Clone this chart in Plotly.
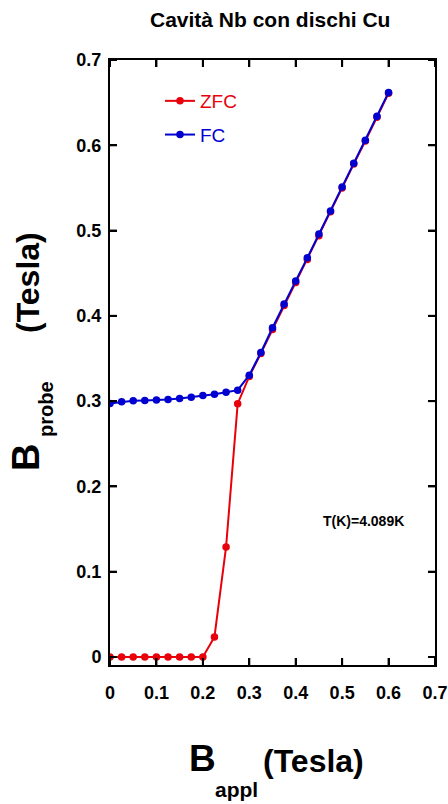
import plotly.graph_objects as go

# Applied field steps (Tesla)
b_appl = [0.0, 0.025, 0.05, 0.075, 0.1, 0.125, 0.15, 0.175, 0.2, 0.225, 0.25, 0.275,
          0.3, 0.325, 0.35, 0.375, 0.4, 0.425, 0.45, 0.475, 0.5, 0.525, 0.55, 0.575, 0.6]

# Zero-field-cooled probe field (Tesla)
zfc = [0.0, 0.0, 0.0, 0.0, 0.0, 0.0, 0.0, 0.0, 0.0, 0.0235, 0.129, 0.297,
       0.329, 0.356, 0.384, 0.412, 0.439, 0.466, 0.494, 0.522, 0.550, 0.578, 0.605, 0.633, 0.661]

# Field-cooled probe field (Tesla)
fc = [0.2973, 0.2992, 0.3004, 0.3008, 0.3012, 0.3020, 0.3032, 0.3047, 0.3067, 0.3082, 0.3105, 0.3129,
      0.3305, 0.357, 0.386, 0.414, 0.441, 0.468, 0.496, 0.523, 0.551, 0.579, 0.606, 0.634, 0.662]

x_ticks = [0, 0.1, 0.2, 0.3, 0.4, 0.5, 0.6, 0.7]
x_tick_text = ["0", "0.1", "0.2", "0.3", "0.4", "0.5", "0.6", "0.7"]
y_ticks = [0, 0.1, 0.2, 0.3, 0.4, 0.5, 0.6, 0.7]
y_tick_text = ["0", "0.1", "0.2", "0.3", "0.4", "0.5", "0.6", "0.7"]

FONT = "Liberation Sans, Arial, Helvetica"
RED = "#e8000b"
BLUE = "#0000d0"

# Plot area in page pixels; helpers convert page pixels to paper coordinates
L, T, W, H = 110, 60, 325.0, 605.0
def px_x(x):
    return (x - L) / W
def px_y(y):
    return (T + H - y) / H

fig = go.Figure()
fig.add_trace(go.Scatter(x=b_appl, y=zfc, mode="lines+markers",
                         name=f"<span style='color:{RED}'>ZFC</span>", legendgroup="zfc",
                         line=dict(color=RED, width=2), marker=dict(color=RED, size=7.5)))
fig.add_trace(go.Scatter(x=b_appl, y=fc, mode="lines+markers",
                         name=f"<span style='color:{BLUE}'>FC</span>", legendgroup="fc",
                         line=dict(color=BLUE, width=2), marker=dict(color=BLUE, size=7.5)))

axis_common = dict(showline=True, linecolor="black", linewidth=2, mirror="allticks",
                   ticks="inside", ticklen=7, tickwidth=2, tickcolor="black",
                   showgrid=False, zeroline=False, automargin=False,
                   tickfont=dict(family=FONT, size=18, color="black", weight="bold"))

fig.update_xaxes(range=[0, 0.70001], tickvals=x_ticks, ticktext=x_tick_text,
                 ticklabelstandoff=10, **axis_common)
fig.update_yaxes(range=[-0.0094, 0.70001], tickvals=y_ticks, ticktext=y_tick_text,
                 ticklabelstandoff=3, **axis_common)

# Inward tick marks on all four sides of the frame
TL = 7
tick_line = dict(color="black", width=2)
shapes = []
for tv in x_ticks:
    shapes.append(dict(type="line", xref="x", yref="paper", x0=tv, x1=tv,
                       y0=0, y1=TL / H, line=tick_line, layer="above"))
    shapes.append(dict(type="line", xref="x", yref="paper", x0=tv, x1=tv,
                       y0=1, y1=1 - TL / H, line=tick_line, layer="above"))
for tv in y_ticks:
    shapes.append(dict(type="line", xref="paper", yref="y", y0=tv, y1=tv,
                       x0=0, x1=TL / W, line=tick_line, layer="above"))
    shapes.append(dict(type="line", xref="paper", yref="y", y0=tv, y1=tv,
                       x0=1, x1=1 - TL / W, line=tick_line, layer="above"))

txt = dict(showarrow=False, xref="paper", yref="paper", xanchor="center", yanchor="middle")
annots = [
    dict(text="<b>Cavità Nb con dischi Cu</b>", x=px_x(270), y=px_y(19),
         font=dict(family=FONT, size=21, color="black"), **txt),
    dict(text="<b>T(K)=4.089K</b>", x=0.638, y=0.159, xref="x", yref="y",
         xanchor="right", yanchor="middle", showarrow=False,
         font=dict(family=FONT, size=14, color="black")),
    dict(text="<b>B</b>", x=px_x(202), y=px_y(758),
         font=dict(family=FONT, size=37, color="black"), **txt),
    dict(text="<b>appl</b>", x=px_x(236), y=px_y(789),
         font=dict(family=FONT, size=21, color="black"), **txt),
    dict(text="<b>(Tesla)</b>", x=px_x(313), y=px_y(761),
         font=dict(family=FONT, size=32, color="black"), **txt),
    dict(text="<b>B</b>", x=px_x(26), y=px_y(458), textangle=-90,
         font=dict(family=FONT, size=38, color="black"), **txt),
    dict(text="<b>probe</b>", x=px_x(46), y=px_y(409), textangle=-90,
         font=dict(family=FONT, size=20, color="black"), **txt),
    dict(text="<b>(Tesla)</b>", x=px_x(28), y=px_y(283), textangle=-90,
         font=dict(family=FONT, size=32, color="black"), **txt),
]

fig.update_layout(
    width=448, height=804,
    margin=dict(l=L, r=448 - L - int(W), t=T, b=804 - T - int(H), autoexpand=False),
    paper_bgcolor="white", plot_bgcolor="white",
    showlegend=True,
    legend=dict(x=px_x(160), y=px_y(82), xanchor="left", yanchor="top",
                font=dict(family=FONT, size=19), bgcolor="rgba(0,0,0,0)",
                tracegroupgap=6, itemwidth=30),
    annotations=annots,
    shapes=shapes,
)

fig.write_html("out.html")
